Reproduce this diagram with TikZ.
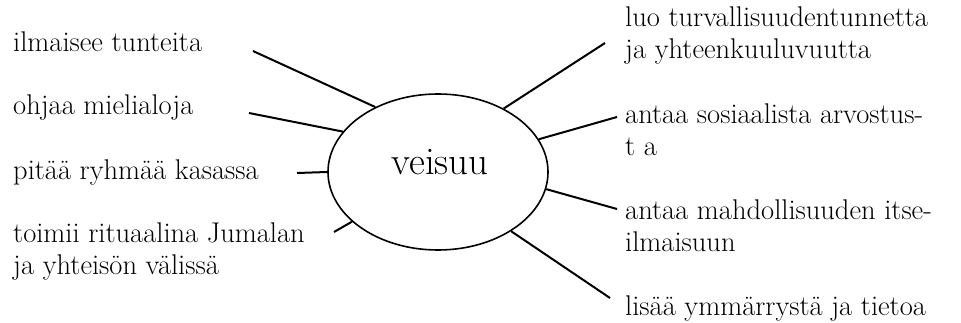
\documentclass[tikz,border=0pt]{standalone}
\usetikzlibrary{shapes.geometric}
\begin{document}
\begin{tikzpicture}[x=1pt,y=-1pt,
  lbl/.style={anchor=base west,inner sep=0pt,font=\fontsize{28.5}{32}\selectfont},
  spoke/.style={line width=2pt},
  hub/.style={ellipse,draw,line width=1.6pt,minimum width=220pt,minimum height=156pt,inner sep=0pt}]
\useasboundingbox (0,0) rectangle (961,323);
\node[hub] (e) at (438,172) {};
\node[anchor=base,inner sep=0pt,font=\fontsize{39}{42}\selectfont] (t) at (440,175) {veisuu};
% left labels
\node[lbl] (l1) at (13,52) {ilmaisee tunteita};
\node[lbl] (l2) at (13,115) {ohjaa mielialoja};
\node[lbl] (l3) at (13,180) {pitää ryhmää kasassa};
\node[lbl] (l4) at (13,243) {\begin{tabular}[t]{@{}l@{}}toimii rituaalina Jumalan\\ja yhteisön välissä\end{tabular}};
% right labels
\node[lbl] (r1) at (625,27) {\begin{tabular}[t]{@{}l@{}}luo turvallisuudentunnetta\\ja yhteenkuuluvuutta\end{tabular}};
\node[lbl] (r2) at (625,124) {\begin{tabular}[t]{@{}l@{}}antaa sosiaalista arvostus-\\t a\end{tabular}};
\node[lbl] (r3) at (625,220) {\begin{tabular}[t]{@{}l@{}}antaa mahdollisuuden itse-\\ilmaisuun\end{tabular}};
\node[lbl] (r4) at (625,315) {lisää ymmärrystä ja tietoa};
% free ends
\coordinate (a1) at (253,51);
\coordinate (a2) at (249,113);
\coordinate (a3) at (297,173);
\coordinate (a4) at (334,232);
\coordinate (b1) at (605,43);
\coordinate (b2) at (617,117);
\coordinate (b3) at (617,209);
\coordinate (b4) at (610,298);
\draw[spoke] (e.134) -- (a1);
\draw[spoke] (e.157) -- (a2);
\draw[spoke] (e.180) -- (a3);
\draw[spoke] (e.210) -- (a4);
\draw[spoke] (e.44) -- (b1);
\draw[spoke] (e.18) -- (b2);
\draw[spoke] (e.-9) -- (b3);
\draw[spoke] (e.-39) -- (b4);
\end{tikzpicture}
\end{document}
